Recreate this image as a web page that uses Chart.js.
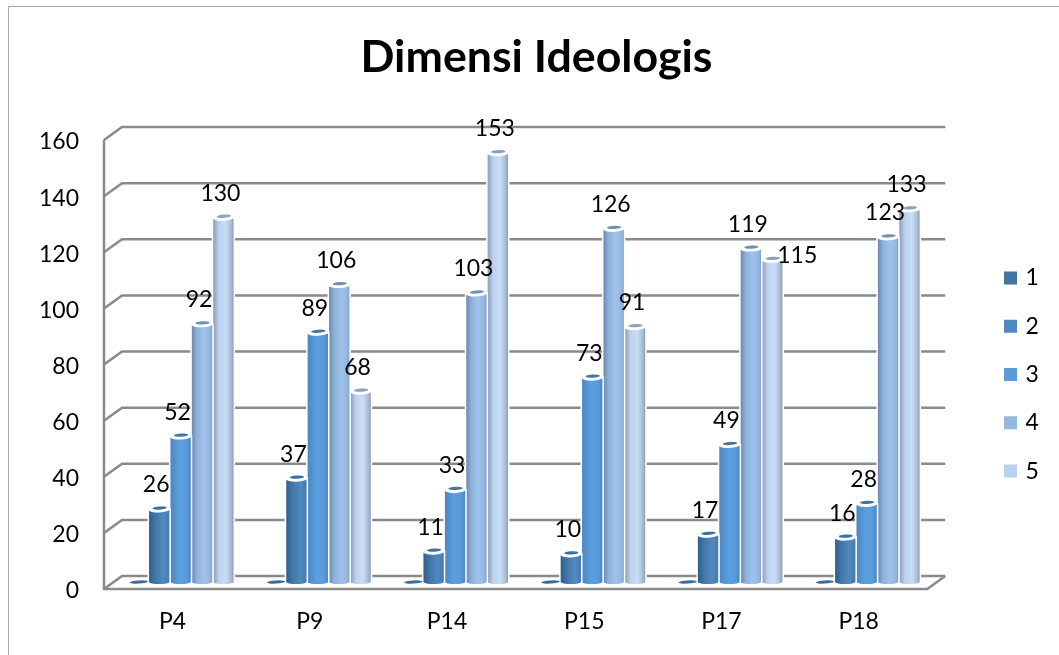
<!DOCTYPE html>
<html>
<head>
<meta charset="utf-8">
<script src="https://cdn.jsdelivr.net/npm/chart.js@4"></script>
<style>
html,body{margin:0;padding:0;background:#fff;overflow:hidden}
#wrap{position:relative;width:1059px;height:655px}
#frame{position:absolute;left:8px;top:6px;right:0;bottom:0;border-left:1.5px solid #a9a9a9;border-top:1.5px solid #a9a9a9}
canvas{position:absolute;left:0;top:0}
</style>
</head>
<body>
<div id="wrap"><div id="frame"></div><canvas id="c" width="1059" height="655"></canvas></div>
<script>
const chartTitle = "Dimensi Ideologis";
const categories = ["P4", "P9", "P14", "P15", "P17", "P18"];
const seriesNames = ["1", "2", "3", "4", "5"];
const series1 = [0, 0, 0, 0, 0, 0];
const series2 = [26, 37, 11, 10, 17, 16];
const series3 = [52, 89, 33, 73, 49, 28];
const series4 = [92, 106, 103, 126, 119, 123];
const series5 = [130, 68, 153, 91, 115, 133];
const seriesColors = ["#44749F", "#4F88BD", "#5B9BD8", "#95B8E0", "#BBD0EB"];

const FONT = "Lato, Carlito, sans-serif";
const FRONT_SHIFT = -2;
const BAR_SHIFT = {x: 8, y: -8};
const WALL_SHIFT = {x: 18, y: -13};
const WALL_COLOR = "#8a8a8a";

const cylinderStyle = {
  "#44749F": {cap: "#3d6c98", stops: [[0,"#2f5f8c"],[0.5,"#44749F"],[1,"#3a6a96"]]},
  "#4F88BD": {cap: "#3c6f9e", stops: [[0,"#2f5f8d"],[0.3,"#4276a8"],[0.7,"#5189bf"],[1,"#447aae"]]},
  "#5B9BD8": {cap: "#44779f", stops: [[0,"#4c86c0"],[0.45,"#5b9fe0"],[0.8,"#5a9ada"],[1,"#4c86c0"]]},
  "#95B8E0": {cap: "#6f90b8", stops: [[0,"#6b89ae"],[0.25,"#8eb1da"],[0.6,"#a0c3ec"],[0.9,"#93b5dd"],[1,"#7e9fc6"]]},
  "#BBD0EB": {cap: "#8aa0bd", stops: [[0,"#8a9db6"],[0.28,"#bdd2ef"],[0.62,"#c9ddf8"],[0.88,"#a9bad2"],[1,"#8f9db2"]]}
};

class CylinderBar extends Chart.BarElement {
  draw(ctx) {
    const {x, y, base, width} = this.getProps(["x", "y", "base", "width"]);
    const style = cylinderStyle[this.options.backgroundColor];
    const left = x - width / 2, right = x + width / 2, rx = width / 2;
    const value = Math.abs(base - y);
    ctx.save();
    ctx.translate(BAR_SHIFT.x, BAR_SHIFT.y);
    if (value < 0.5) {
      ctx.fillStyle = style.cap;
      ctx.beginPath();
      ctx.ellipse(x + 1, base - 1, rx - 1, 1.6, -0.06, 0, Math.PI * 2);
      ctx.fill();
      ctx.restore();
      return;
    }
    // white halo
    ctx.fillStyle = "#ffffff";
    ctx.beginPath();
    ctx.moveTo(left - 1.5, y - 2);
    ctx.lineTo(right + 1.5, y - 2);
    ctx.lineTo(right + 1.5, base - 1);
    ctx.ellipse(x, base - 1, rx + 1.5, 2.5, 0, 0, Math.PI);
    ctx.closePath();
    ctx.fill();
    // body
    const g = ctx.createLinearGradient(left, 0, right, 0);
    style.stops.forEach(s => g.addColorStop(s[0], s[1]));
    ctx.fillStyle = g;
    ctx.beginPath();
    ctx.moveTo(left, y);
    ctx.lineTo(left, base - 1);
    ctx.ellipse(x, base - 1, rx, 2, 0, Math.PI, 0, true);
    ctx.lineTo(right, y);
    ctx.closePath();
    ctx.fill();
    // top: white rim and inner cap
    ctx.fillStyle = "#ffffff";
    ctx.beginPath();
    ctx.ellipse(x, y - 0.5, rx + 0.5, 3, -0.04, 0, Math.PI * 2);
    ctx.fill();
    ctx.fillStyle = style.cap;
    ctx.beginPath();
    ctx.ellipse(x + 0.5, y - 2, rx - 3, 1.6, -0.06, 0, Math.PI * 2);
    ctx.fill();
    ctx.restore();
  }
}
CylinderBar.id = "cylinderBar";
CylinderBar.defaults = {};

class CylinderController extends Chart.BarController {}
CylinderController.id = "cylinderBar";
CylinderController.defaults = {dataElementType: "cylinderBar"};
CylinderController.overrides = Chart.BarController.overrides;
Chart.register(CylinderBar, CylinderController);

const wallPlugin = {
  id: "wall",
  afterLayout(chart) {
    const lg = chart.legend, t = chart.titleBlock;
    lg.left = 981.7; lg.right = lg.left + lg.width;
    lg.top += 47; lg.bottom += 47;
    t.left = 0; t.right = 1073;
  },
  beforeDatasetsDraw(chart) {
    const {ctx, chartArea: a, scales: {y}} = chart;
    const dx = WALL_SHIFT.x, dy = WALL_SHIFT.y, f = FRONT_SHIFT;
    ctx.save();
    ctx.strokeStyle = WALL_COLOR;
    ctx.lineWidth = 2.5;
    y.ticks.forEach(t => {
      const py = y.getPixelForValue(t.value) + f;
      ctx.beginPath();
      ctx.moveTo(a.left, py);
      ctx.lineTo(a.left + dx, py + dy);
      ctx.lineTo(a.right + dx, py + dy);
      ctx.stroke();
    });
    ctx.beginPath();
    ctx.moveTo(a.left, a.top + f);
    ctx.lineTo(a.left, a.bottom + f);
    ctx.lineTo(a.right, a.bottom + f);
    ctx.lineTo(a.right + dx, a.bottom + f + dy);
    ctx.stroke();
    ctx.restore();
  },
  afterDatasetsDraw(chart) {
    const {ctx} = chart;
    ctx.save();
    ctx.font = "23px " + FONT;
    ctx.fillStyle = "#000";
    ctx.textAlign = "center";
    ctx.textBaseline = "middle";
    chart.data.datasets.forEach((ds, i) => {
      chart.getDatasetMeta(i).data.forEach((el, j) => {
        const v = ds.data[j];
        if (!v) return;
        const nudge = v === 115 ? 28 : 0;
        ctx.fillText(String(v), el.x + BAR_SHIFT.x - 3 + nudge, el.y + BAR_SHIFT.y - (v === 115 ? 5 : 25));
      });
    });
    ctx.restore();
  }
};

const allSeries = [series1, series2, series3, series4, series5];
new Chart(document.getElementById("c"), {
  type: "cylinderBar",
  plugins: [wallPlugin],
  data: {
    labels: categories,
    datasets: allSeries.map((d, i) => ({
      label: seriesNames[i],
      data: d,
      backgroundColor: seriesColors[i],
      borderColor: seriesColors[i],
      borderWidth: 6,
      categoryPercentage: 0.78,
      barPercentage: 0.95,
      clip: false
    }))
  },
  options: {
    responsive: false,
    animation: false,
    layout: {padding: {left: 0, right: 64.6, top: 0, bottom: 0}},
    plugins: {
      tooltip: {enabled: false},
      title: {
        display: true,
        text: chartTitle,
        color: "#000",
        font: {family: FONT, size: 44.7, weight: "bold", lineHeight: 1.2},
        padding: {top: 31.2, bottom: 57.2}
      },
      legend: {
        position: "right",
        labels: {
          boxWidth: 7,
          boxHeight: 7,
          padding: 25.3,
          color: "#000",
          font: {family: FONT, size: 23}
        }
      }
    },
    scales: {
      x: {
        grid: {display: false, drawTicks: false},
        border: {display: false},
        ticks: {color: "#000", font: {family: FONT, size: 23}, padding: 17, maxRotation: 0},
        afterFit(s) { s.height = 64; }
      },
      y: {
        min: 0,
        max: 160,
        grid: {display: false, drawTicks: false},
        border: {display: false},
        ticks: {stepSize: 20, color: "#000", font: {family: FONT, size: 23}, padding: 25},
        afterFit(s) { s.width = 104; }
      }
    }
  }
});
</script>
</body>
</html>
